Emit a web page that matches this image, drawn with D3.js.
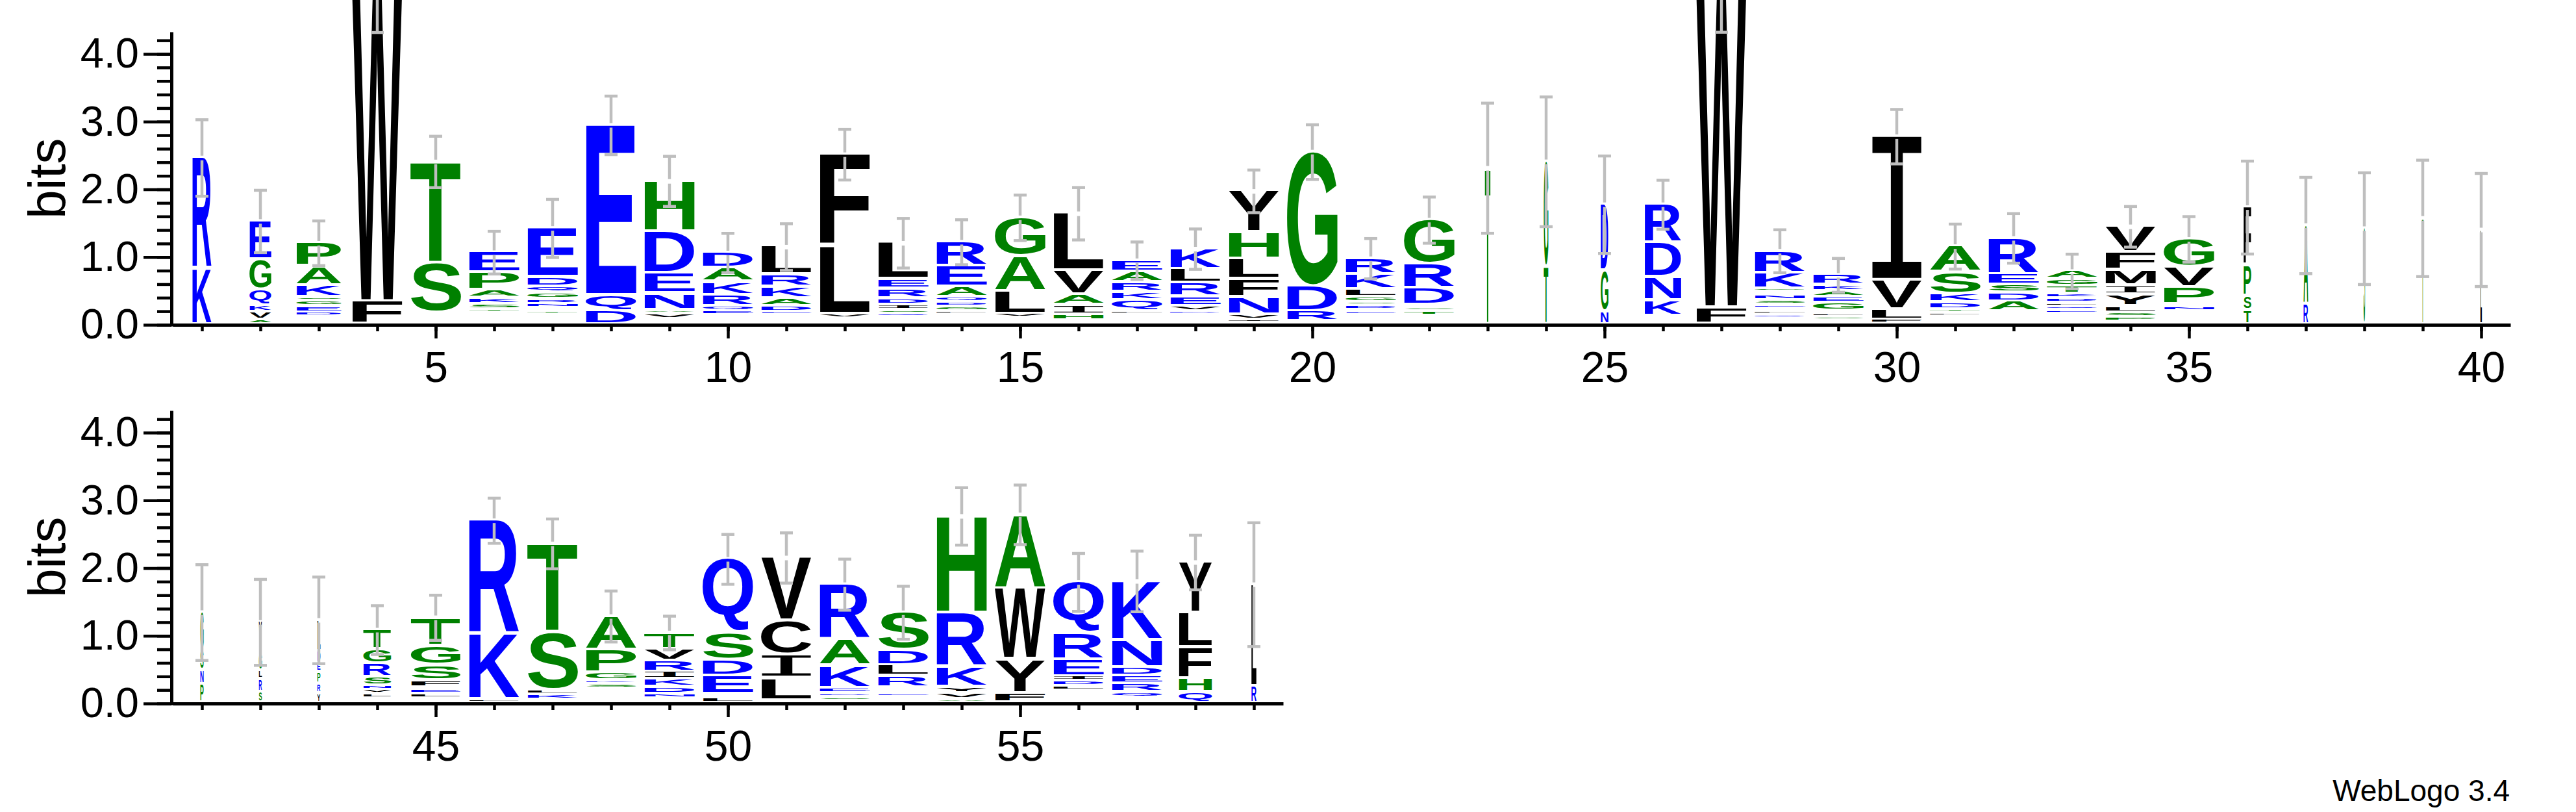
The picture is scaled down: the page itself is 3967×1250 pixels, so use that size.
<!DOCTYPE html>
<meta charset="utf-8">
<style>
body { margin: 0; background: #fff; }
svg { display: block; }
.axis path, .axis line { stroke: #000; fill: none; }
.axis text { font-family: "Liberation Sans", Arial, sans-serif; fill: #000; }
.ylabel, .credit { font-family: "Liberation Sans", Arial, sans-serif; fill: #000; }
</style>
<body>
<svg id="logo" width="3967" height="1250"></svg>
<script src="https://d3js.org/d3.v7.min.js"></script>
<script>

// residue colours (WebLogo "hydrophobicity" scheme)
var blueRes = "RKDENQ", greenRes = "SGHTAP";

// stacks, bottom to top: [residue, bits]
var stacksTop = [
  [["K",.825],["R",1.638]],
  [["A",.063],["V",.113],["K",.107],["Q",.227],["G",.448],["E",.568]],
  [["D",.061],["E",.091],["G",.079],["S",.057],["K",.179],["A",.276],["P",.353]],
  [["F",.336],["W",4.66]],
  [["S",.737],["T",1.503]],
  [["T",.05],["S",.079],["K",.087],["A",.112],["P",.262],["E",.307]],
  [["T",.053],["S",.041],["N",.064],["R",.071],["G",.095],["Q",.087],["D",.144],["E",.729]],
  [["D",.196],["Q",.231],["E",2.518]],
  [["V",.08],["A",.057],["N",.246],["E",.303],["D",.615],["H",.747]],
  [["E",.061],["Q",.075],["R",.164],["K",.197],["A",.201],["D",.235]],
  [["E",.049],["D",.088],["A",.113],["K",.171],["R",.182],["L",.417]],
  [["V",.07],["L",.997],["F",1.365]],
  [["Q",.053],["S",.057],["I",.076],["D",.094],["R",.141],["E",.144],["L",.542]],
  [["L",.053],["G",.064],["D",.068],["Q",.076],["A",.16],["E",.307],["R",.356]],
  [["V",.061],["L",.334],["A",.519],["G",.577]],
  [["H",.087],["I",.145],["A",.151],["V",.357],["L",.849]],
  [["L",.05],["Q",.163],["K",.121],["R",.144],["A",.16],["E",.17]],
  [["D",.05],["V",.076],["E",.144],["R",.197],["L",.208],["K",.304]],
  [["I",.05],["V",.075],["N",.258],["F",.266],["L",.303],["H",.391],["Y",.614]],
  [["R",.148],["D",.368],["G",1.994]],
  [["E",.049],["Q",.031],["D",.064],["S",.049],["G",.076],["L",.114],["K",.228],["R",.238]],
  [["N",.044],["E",.046],["T",.068],["S",.057],["A",.038],["D",.246],["R",.36],["G",.657]],
  [["T",2.312]],
  [["T",.851],["G",1.556]],
  [["N",.188],["G",.599],["D",.986]],
  [["K",.231],["N",.341],["D",.508],["R",.573]],
  [["F",.245],["W",4.755]],
  [["Q",.058],["L",.05],["T",.038],["E",.057],["S",.068],["N",.076],["A",.045],["G",.049],["K",.236],["R",.329]],
  [["S",.05],["L",.057],["D",.038],["G",.114],["E",.087],["A",.088],["K",.094],["R",.152]],
  [["F",.063],["L",.155],["V",.432],["I",2.128]],
  [["L",.053],["T",.057],["D",.102],["K",.126],["S",.322],["A",.387]],
  [["A",.148],["D",.129],["S",.117],["E",.16],["R",.538]],
  [["E",.053],["Q",.057],["L",.053],["D",.068],["K",.065],["T",.114],["G",.106],["A",.125]],
  [["P",.07],["S",.067],["L",.095],["Y",.17],["I",.133],["M",.228],["F",.265],["V",.387]],
  [["N",.061],["A",.045],["P",.25],["V",.304],["G",.417]],
  [["T",.207],["S",.208],["P",.455],["F",.861]],
  [["R",.294],["A",1.172]],
  [["S",1.42]],
  [["T",1.572]],
  [["L",1.40]]
];
// bits taken by residues too small to show, below each stack
var tailTop = [0,0,.108,0,.165,.168,.139,0,.07,.127, .127,.08,.097,.135,.089,.051,.138,.138,.013,.04,
               .127,.03,0,0,0,.12,0,.08,.05,0, .108,.184,.146,.032,.184,0,0,0,0,0];
var errTop = [.565,.46,.33,.68,.379,.315,.429,.432,.37,.29, .345,.374,.366,.332,.336,.387,.277,.298,.315,.404,
              .298,.341,.961,.958,.72,.362,.68,.317,.25,.402, .332,.366,.256,.30,.336,.686,.711,.825,.859,.835];
var widthTop = [.38,.43,.89,1,1,1,1,1,1,1, 1,1,1,1,1,1,1,1,1,1, 1,1,.11,.09,.15,.73,1,1,1,1, 1,1,1,1,1,.15,.09,.03,.03,.03];

var stacksBottom = [
  [["P",.278],["N",.198],["S",.30],["G",.567]],
  [["S",.157],["R",.192],["L",.127],["G",.254],["Y",.468]],
  [["Y",.141],["R",.144],["P",.166],["E",.137],["D",.176],["L",.464]],
  [["L",.063],["V",.064],["N",.064],["S",.127],["R",.202],["G",.205],["T",.297]],
  [["L",.067],["E",.064],["K",.038],["F",.106],["S",.223],["G",.288],["T",.422]],
  [["L",.054],["K",.972],["R",1.673]],
  [["K",.073],["L",.071],["S",.857],["T",1.311]],
  [["E",.048],["L",.048],["S",.064],["K",.057],["G",.118],["P",.336],["A",.505]],
  [["N",.064],["D",.106],["K",.112],["I",.111],["R",.16],["V",.176],["T",.246]],
  [["L",.077],["A",.048],["E",.271],["D",.24],["S",.40],["Q",1.093]],
  [["L",.33],["I",.342],["C",.505],["V",.937]],
  [["S",.06],["D",.055],["E",.073],["K",.333],["A",.393],["R",.815]],
  [["E",.058],["Q",.048],["T",.038],["R",.169],["L",.16],["D",.224],["S",.56]],
  [["A",.054],["V",.087],["Y",.096],["K",.297],["R",.79],["H",1.439]],
  [["F",.141],["Y",.502],["W",1.049],["A",1.094]],
  [["L",.064],["D",.074],["I",.074],["E",.246],["R",.383],["Q",.768]],
  [["Q",.08],["R",.128],["E",.111],["D",.128],["N",.40],["K",.879]],
  [["Q",.157],["H",.201],["F",.461],["L",.505],["Y",.758]],
  [["R",.246],["L",1.509]]
];
var tailBottom = [0,0,0,.062,.058,0,.045,.109,.067,0, .035,.026,.083,0,0,.179,.077,0,0];
var errBottom = [.707,.635,.64,.36,.333,.333,.368,.376,.248,.368, .371,.377,.392,.424,.44,.428,.448,.403,.914];
var widthBottom = [.065,.06,.06,.55,.98,1,1,1,1,1, 1,1,1,1,1,1,1,.66,.1];

var maxBits = Math.log2(20),
    pxPerBit = 104.25,
    colStep = 90,
    letterW = 78,
    glyphGap = 4.5,
    axisX = 264,
    plotLeft = 266;

var svg = d3.select("#logo");

function colour(ch) {
  if (blueRes.indexOf(ch) >= 0) return "#0000ff";
  if (greenRes.indexOf(ch) >= 0) return "#008000";
  return "#000000";
}

// ink box of each glyph, so letters can be stretched to fill their cell
var ctx = document.createElement("canvas").getContext("2d");
var cache = {};
function glyphFont(ch) {
  return ch === "I" ? {family: "DejaVu Sans Mono", weight: "normal"} : {family: "Liberation Sans", weight: "bold"};
}
function inkBox(ch) {
  if (!cache[ch]) {
    var f = glyphFont(ch);
    ctx.font = f.weight + " 100px '" + f.family + "'";
    var m = ctx.measureText(ch);
    cache[ch] = {l: m.actualBoundingBoxLeft, r: m.actualBoundingBoxRight,
                 a: m.actualBoundingBoxAscent, d: m.actualBoundingBoxDescent};
  }
  return cache[ch];
}

function panel(stacks, tails, errs, widths, first, y0) {
  var n = stacks.length;
  var x = d3.scaleLinear().domain([first - 0.5, first + n - 0.5]).range([plotLeft, plotLeft + n * colStep]);
  var y = d3.scaleLinear().domain([0, maxBits]).range([y0, y0 - maxBits * pxPerBit]);
  var g = svg.append("g");

  // letters
  stacks.forEach(function(stack, i) {
    var cx = x(first + i), w = letterW * widths[i];
    var cum = tails[i];
    stack.forEach(function(s) {
      var top = cum + s[1];
      var yTop = y(top), yBot = y(cum) - glyphGap;
      cum = top;
      var h = yBot - yTop;
      if (h < 0.6) return;
      var b = inkBox(s[0]), f = glyphFont(s[0]);
      var sx = w / (b.l + b.r), sy = h / (b.a + b.d);
      g.append("text")
        .attr("transform", "translate(" + (cx - w / 2) + "," + yTop + ") scale(" + sx + "," + sy + ") translate(" + b.l + "," + b.a + ")")
        .style("font-family", f.family)
        .style("font-weight", f.weight)
        .style("font-size", "100px")
        .attr("fill", colour(s[0]))
        .text(s[0]);
    });
    stack.total = cum;
  });

  // error bars
  var eb = g.append("g").attr("stroke", "#bebebe").attr("stroke-width", 4.5);
  stacks.forEach(function(stack, i) {
    var cx = x(first + i), yc = y(stack.total),
        yHi = y(stack.total + errs[i]), yLo = y(stack.total - errs[i]);
    eb.append("line").attr("x1", cx).attr("x2", cx).attr("y1", yHi).attr("y2", yc - 3.5);
    eb.append("line").attr("x1", cx).attr("x2", cx).attr("y1", yc + 3.5).attr("y2", yLo);
    eb.append("line").attr("x1", cx - 10).attr("x2", cx + 10).attr("y1", yHi).attr("y2", yHi);
    eb.append("line").attr("x1", cx - 10).attr("x2", cx + 10).attr("y1", yLo).attr("y2", yLo);
  });

  // x axis: minor tick at every position, labelled major every 5
  var positions = d3.range(first, first + n);
  var xMinor = g.append("g").attr("class", "axis").attr("transform", "translate(0," + y0 + ")")
    .call(d3.axisBottom(x).tickValues(positions).tickSize(10).tickSizeOuter(0).tickFormat(""));
  xMinor.select(".domain").attr("stroke-width", 5);
  xMinor.selectAll(".tick line").attr("stroke-width", 4.5);
  var xMajor = g.append("g").attr("class", "axis").attr("transform", "translate(0," + y0 + ")")
    .call(d3.axisBottom(x).tickValues(positions.filter(function(p) { return p % 5 === 0; }))
      .tickSize(21).tickPadding(20).tickSizeOuter(0).tickFormat(d3.format("d")));
  xMajor.select(".domain").remove();
  xMajor.selectAll(".tick line").attr("stroke-width", 4.5);
  xMajor.selectAll("text").style("font-size", "66px");

  // y axis
  var yMinor = g.append("g").attr("class", "axis").attr("transform", "translate(" + axisX + ",0)")
    .call(d3.axisLeft(y).tickValues(d3.range(0, 4.35, 0.2)).tickSize(22).tickSizeOuter(0).tickFormat(""));
  yMinor.select(".domain").attr("stroke-width", 5).attr("d", "M0.5," + (y0 + 2.5) + "V" + y(maxBits));
  yMinor.selectAll(".tick line").attr("stroke-width", 4.5);
  var yMajor = g.append("g").attr("class", "axis").attr("transform", "translate(" + axisX + ",0)")
    .call(d3.axisLeft(y).tickValues([0, 1, 2, 3, 4]).tickSize(43).tickPadding(7).tickSizeOuter(0).tickFormat(d3.format(".1f")));
  yMajor.select(".domain").remove();
  yMajor.selectAll(".tick line").attr("stroke-width", 4.5);
  yMajor.selectAll("text").style("font-size", "65px");

  g.append("text")
    .attr("class", "ylabel")
    .attr("transform", "translate(100," + y(maxBits / 2) + ") rotate(-90)")
    .attr("text-anchor", "middle")
    .style("font-size", "80px")
    .text("bits");
}

panel(stacksTop, tailTop, errTop, widthTop, 1, 500);
panel(stacksBottom, tailBottom, errBottom, widthBottom, 41, 1083);

svg.append("text")
  .attr("class", "credit")
  .attr("x", 3865)
  .attr("y", 1233)
  .attr("text-anchor", "end")
  .style("font-size", "46px")
  .text("WebLogo 3.4");

</script>
